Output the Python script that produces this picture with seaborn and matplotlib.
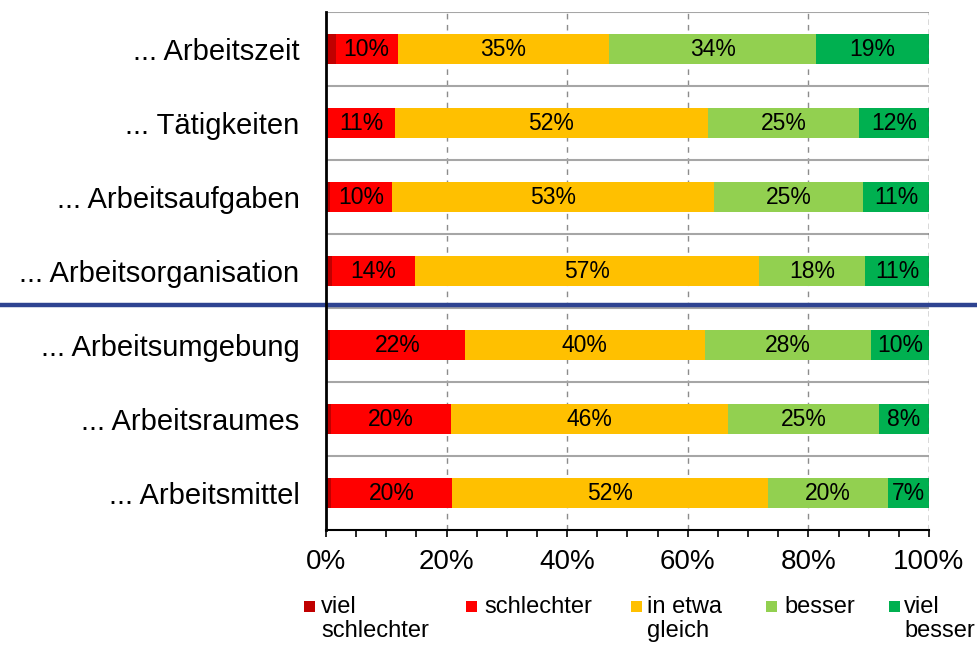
import numpy as np
import pandas as pd
import matplotlib
matplotlib.use("Agg")
import matplotlib.pyplot as plt
import matplotlib.transforms as mtransforms
from matplotlib.patches import Rectangle
from matplotlib.ticker import MultipleLocator
import seaborn as sns

# ---- data ----
categories = ["... Arbeitszeit", "... Tätigkeiten", "... Arbeitsaufgaben",
              "... Arbeitsorganisation", "... Arbeitsumgebung",
              "... Arbeitsraumes", "... Arbeitsmittel"]
viel_schlechter = [1.6, 0.4, 0.7, 1.0, 0.7, 0.8, 0.8]
schlechter      = [10.3, 11.0, 10.2, 13.8, 22.3, 19.9, 20.1]
gleich          = [35.1, 51.9, 53.4, 57.0, 39.8, 46.0, 52.4]
besser          = [34.3, 25.1, 24.8, 17.6, 27.6, 25.0, 19.9]
viel_besser     = [18.7, 11.6, 10.9, 10.6, 9.6, 8.3, 6.8]
series_names = ["viel\nschlechter", "schlechter", "in etwa\ngleich", "besser", "viel\nbesser"]
series_colors = ["#C00000", "#FF0000", "#FFC000", "#92D050", "#00B050"]
xticks = [0, 20, 40, 60, 80, 100]
xtick_labels = ["0%", "20%", "40%", "60%", "80%", "100%"]

series = [viel_schlechter, schlechter, gleich, besser, viel_besser]

sns.set_style("white")
plt.rcParams["font.family"] = ["Liberation Sans", "DejaVu Sans"]
plt.rcParams["text.color"] = "black"

W, H = 978, 646
fig = plt.figure(figsize=(W / 100, H / 100), dpi=100)
ax = fig.add_axes([326 / W, 1 - 530 / H, 603 / W, 518 / H])

vals = np.array(series)  # shape (5, 7)
cum = np.cumsum(vals, axis=0)

# stacked bars: draw cumulative totals from the last segment backwards
for j in range(len(series) - 1, -1, -1):
    df = pd.DataFrame({"cat": categories, "val": cum[j]})
    sns.barplot(data=df, x="val", y="cat", orient="h", color=series_colors[j],
                saturation=1, width=0.4, linewidth=0, ax=ax, zorder=2)

# labels for segments (skip "viel schlechter")
for j in range(1, len(series)):
    for i, cat in enumerate(categories):
        v = vals[j, i]
        xc = cum[j, i] - v / 2
        ax.text(xc, i, f"{int(round(v))}%", ha="center", va="center",
                fontsize=16.5, color="black", zorder=4)

ax.set_xlim(0, 100)
ax.set_ylim(len(categories) - 0.5, -0.5)
ax.set_xlabel("")
ax.set_ylabel("")

# grid & separators
for gx in [20, 40, 60, 80]:
    ax.axvline(gx, color="#8C8C8C", lw=1, ls=(0, (4, 4)), zorder=1)
ax.axvline(100, color="#404040", lw=1, ls=(0, (4, 3)), zorder=3)
for k in range(len(categories)):
    ax.axhline(k - 0.5, color="#A6A6A6", lw=1.5, zorder=1)

# blue divider spanning the full figure width
trans = mtransforms.blended_transform_factory(fig.transFigure, ax.transData)
ax.plot([0, 1], [3.46, 3.46], color="#2E4391", lw=3.2, transform=trans,
        clip_on=False, zorder=5)

# axes styling
for s in ["top", "right"]:
    ax.spines[s].set_visible(False)
ax.spines["left"].set_color("black")
ax.spines["left"].set_linewidth(2)
ax.spines["left"].set_zorder(6)
ax.spines["bottom"].set_color("black")
ax.spines["bottom"].set_linewidth(1.5)

ax.set_xticks(xticks)
ax.set_xticklabels(xtick_labels, fontsize=20)
ax.xaxis.set_minor_locator(MultipleLocator(5))
ax.tick_params(axis="x", which="both", direction="out", length=5, width=1.2,
               color="black", labelcolor="black", bottom=True, pad=9)
ax.tick_params(axis="y", length=0, pad=19, labelsize=21, labelcolor="black")

# legend (manual, Excel-like with wrapped labels)
mark_x = [304, 466, 631, 766, 889]
text_x = [321, 484, 647, 784, 904]
for name, col, mx, tx in zip(series_names, series_colors, mark_x, text_x):
    fig.patches.append(Rectangle((mx / W, 1 - 612 / H), 11 / W, 11 / H,
                                 transform=fig.transFigure, facecolor=col,
                                 edgecolor="none"))
    fig.text(tx / W, 1 - 596 / H, name, ha="left", va="top", fontsize=17,
             linespacing=1.1, color="black")

fig.savefig("out.png", dpi=100)
